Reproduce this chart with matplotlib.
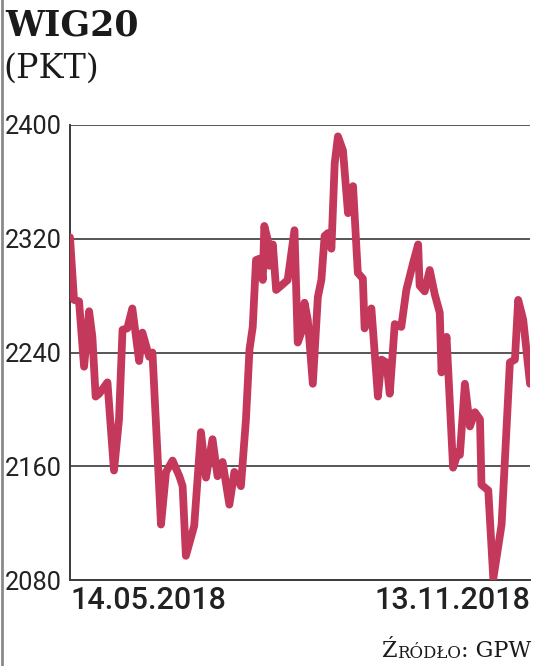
import matplotlib
matplotlib.use("Agg")
import matplotlib.pyplot as plt
from matplotlib.lines import Line2D

# Data: day offset from 14.05.2018 and WIG20 index value (pts)
days = [0, 1.6, 3.6, 5.6, 7.6, 8.9, 10.2, 11.6, 14.9, 17.5, 19.5, 20.9, 22.8, 24.8,
        27.5, 28.8, 31.5, 32.8, 36.2, 38.2, 40.8, 43.5, 44.8, 46.1, 49.4, 52.1,
        54.1, 56.7, 58.7, 60.7, 63.4, 65.4, 68.0, 70.0, 71.4, 72.7, 74.0, 75.4,
        76.7, 77.3, 78.7, 79.3, 80.7, 82.0, 84.0, 86.6, 89.3, 90.6, 92.0, 93.3,
        94.6, 96.6, 98.6, 100.0, 101.3, 102.6, 104.0, 105.3, 106.6, 108.6, 110.6,
        112.6, 114.5, 116.5, 117.2, 119.9, 122.5, 123.9, 125.9, 127.2, 129.2,
        131.8, 133.8, 136.5, 138.5, 139.1, 141.1, 143.1, 145.1, 147.1, 147.8,
        149.8, 152.4, 154.4, 155.1, 157.1, 159.1, 161.1, 163.1, 163.7, 166.4,
        168.4, 171.7, 175.0, 177.0, 178.3, 180.3, 183.0]
values = [2321, 2277, 2276, 2230, 2269, 2251, 2209, 2211, 2219, 2157, 2193, 2256,
          2257, 2271, 2234, 2254, 2237, 2240, 2119, 2156, 2164, 2153, 2146, 2097,
          2118, 2184, 2152, 2179, 2153, 2163, 2133, 2156, 2146, 2193, 2242, 2258,
          2305, 2306, 2291, 2329, 2319, 2301, 2316, 2284, 2287, 2291, 2326, 2247,
          2254, 2275, 2263, 2218, 2279, 2291, 2322, 2324, 2313, 2373, 2392, 2382,
          2338, 2357, 2296, 2292, 2257, 2271, 2209, 2235, 2233, 2211, 2260, 2258,
          2284, 2303, 2316, 2287, 2283, 2298, 2281, 2268, 2226, 2251, 2159, 2170,
          2168, 2218, 2188, 2198, 2193, 2147, 2143, 2081, 2119, 2233, 2235, 2277,
          2263, 2218]

y_ticks = [2080, 2160, 2240, 2320, 2400]
x_tick_labels = ["14.05.2018", "13.11.2018"]
title = "WIG20"
unit = "(PKT)"

W, H = 536, 666
fig = plt.figure(figsize=(W / 100, H / 100), dpi=100)
ax = fig.add_axes([70 / W, 1 - 580 / H, 460 / W, 455 / H])

grid_col = "#3a3a3a"
ax.plot(days, values, color="#c3385b", lw=5.6, solid_joinstyle="round",
        solid_capstyle="round", zorder=3)

ax.set_xlim(0, 183)
ax.set_ylim(2080, 2400)
ax.set_yticks(y_ticks)
ax.set_yticklabels([str(v) for v in y_ticks],
                   family=["Roboto", "DejaVu Sans"], fontweight="normal",
                   fontsize=18.3, color="#222222")
for v in y_ticks[1:]:
    ax.axhline(v, color=grid_col, lw=1.2, zorder=1)
ax.set_xticks([0, 183])
labs = ax.set_xticklabels(x_tick_labels, family=["Roboto", "DejaVu Sans"],
                          fontweight="medium", fontsize=22, color="#222222")
labs[0].set_ha("left")
labs[1].set_ha("right")
ax.tick_params(axis="both", length=0)
ax.tick_params(axis="y", pad=6)
ax.tick_params(axis="x", pad=4)
for s in ["top", "right"]:
    ax.spines[s].set_visible(False)
for s in ["left", "bottom"]:
    ax.spines[s].set_color(grid_col)
    ax.spines[s].set_linewidth(1.4)

# Title and unit
fig.text(5 / W, 1 - 8 / H, title, family=["DejaVu Serif"], fontweight="bold",
         fontsize=25, va="top", ha="left", color="#1a1a1a")
fig.text(3 / W, 1 - 53 / H, unit, family=["DejaVu Serif"], fontsize=24,
         va="top", ha="left", color="#1a1a1a")

# Source in small caps
t1 = fig.text(382 / W, 1 - 657 / H, "Ź", family=["DejaVu Serif"], fontsize=16,
              va="baseline", ha="left", color="#1a1a1a")
t2 = ax.annotate("RÓDŁO", xy=(1, 0), xycoords=t1, va="bottom", ha="left",
                 family=["DejaVu Serif"], fontsize=12, color="#1a1a1a",
                 annotation_clip=False)
t3 = ax.annotate(": GPW", xy=(1, 0), xycoords=t2, va="bottom", ha="left",
                 family=["DejaVu Serif"], fontsize=16, color="#1a1a1a",
                 annotation_clip=False)

# left border line of the graphic
fig.add_artist(Line2D([1.5 / W, 1.5 / W], [0, 1], transform=fig.transFigure,
                      color="#8a8a8a", lw=2))

fig.savefig("out.png", dpi=100)
